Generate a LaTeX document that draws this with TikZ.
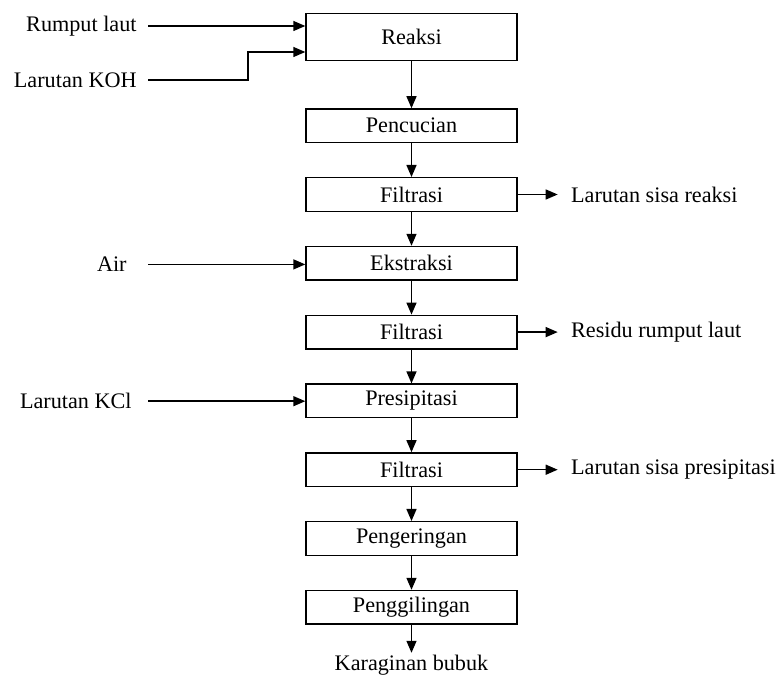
\documentclass[tikz,border=0pt]{standalone}
\usepackage{fontspec}
\setmainfont{Liberation Serif}
\usepackage{tikz}
\usetikzlibrary{positioning,arrows.meta}
\definecolor{ink}{HTML}{000000}
\tikzset{
  >={Triangle[length=6pt,width=5pt]},
  every node/.style={font=\fontsize{11.1}{13}\selectfont},
  % --- nodes
  proc/.style    = {draw=ink, fill=white, line width=0.7pt, align=center,
                    minimum width=105.5pt, minimum height=16.8pt, inner sep=2pt},
  procbig/.style = {proc, minimum height=23.5pt},
  inp/.style     = {inner sep=2pt, anchor=east, text=ink},
  outp/.style    = {inner sep=2pt, anchor=west, text=ink},
  % --- edges
  flow/.style    = {->, line width=0.7pt, draw=ink},
}

\begin{document}
\begin{tikzpicture}
  \useasboundingbox (0,0) rectangle (389pt,-342pt);
  % main chain
  \node[procbig] (reaksi) at (205.75pt,-18.5pt) {Reaksi};
  \node[proc, below=23.5pt of reaksi]       (pencucian)    {Pencucian};
  \node[proc, below=16.9pt of pencucian]    (filtrasiA)    {Filtrasi};
  \node[proc, below=16.9pt of filtrasiA]    (ekstraksi)    {Ekstraksi};
  \node[proc, below=16.9pt of ekstraksi]    (filtrasiB)    {Filtrasi};
  \node[proc, below=16.9pt of filtrasiB]    (presipitasi)  {Presipitasi};
  \node[proc, below=16.9pt of presipitasi]  (filtrasiC)    {Filtrasi};
  \node[proc, below=16.9pt of filtrasiC]    (pengeringan)  {Pengeringan};
  \node[proc, below=16.9pt of pengeringan]  (penggilingan) {Penggilingan};
  \node[inner sep=1pt, below=14pt of penggilingan] (karaginan) {Karaginan bubuk};
  \foreach \a/\b in {reaksi/pencucian,pencucian/filtrasiA,filtrasiA/ekstraksi,
                     ekstraksi/filtrasiB,filtrasiB/presipitasi,presipitasi/filtrasiC,
                     filtrasiC/pengeringan,pengeringan/penggilingan,penggilingan/karaginan}
    \draw[flow] (\a) -- (\b);
  % inputs
  \node[inp] (rumput) at (70.5pt,-13pt)    {Rumput laut};
  \node[inp] (koh)    at (70.5pt,-40pt)    {Larutan KOH};
  \node[inp] (air)    at (65.5pt,-132.2pt) {Air};
  \node[inp] (kcl)    at (68pt,-200.6pt)   {Larutan KCl};
  \coordinate (jog) at (124pt,-26pt);
  \draw[flow] ([xshift=3.5pt]rumput.east) -- (rumput -| reaksi.west);
  \draw[flow] ([xshift=3.5pt]koh.east) -| (jog) -- (jog -| reaksi.west);
  \draw[flow] ([xshift=8.5pt]air.east) -- (air -| ekstraksi.west);
  \draw[flow] ([xshift=6pt]kcl.east) -- (kcl -| presipitasi.west);
  % outputs
  \node[outp, right=24.5pt of filtrasiA] (sisareaksi) {Larutan sisa reaksi};
  \node[outp, right=24.5pt of filtrasiB] (residu)     {Residu rumput laut};
  \node[outp, right=24.5pt of filtrasiC] (sisapresip) {Larutan sisa presipitasi};
  \foreach \a/\b in {filtrasiA/sisareaksi,filtrasiB/residu,filtrasiC/sisapresip}
    \draw[flow] (\a) -- ([xshift=-4.5pt]\b.west);
\end{tikzpicture}
\end{document}
